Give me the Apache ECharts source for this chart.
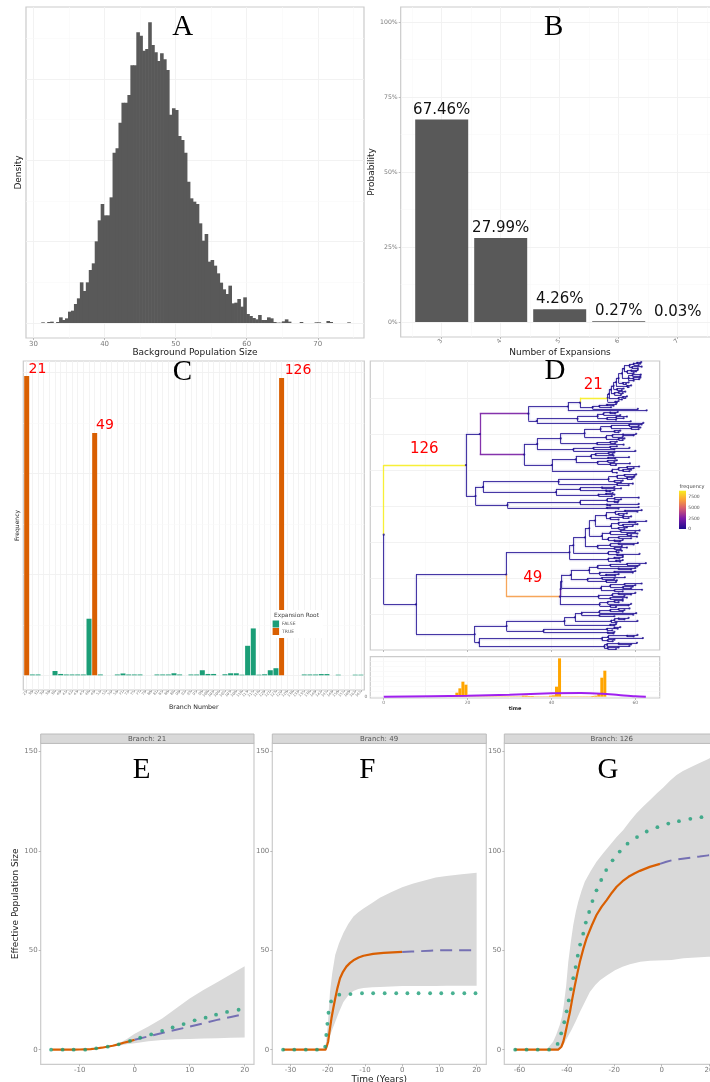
<!DOCTYPE html>
<html><head><meta charset="utf-8">
<style>html,body{margin:0;padding:0;background:#fff}#c{width:710px;height:1082px}</style>
<script src="https://cdn.jsdelivr.net/npm/echarts@6/dist/echarts.min.js"></script>
</head><body><div id="c"></div>
<script>
// ---------- Panel A ----------
const histStart = 31.13, histBin = 0.418;
const histHeights = [2,0,3,4,0,3,17,9,14,34,37,57,74,122,96,122,159,179,245,308,357,323,323,377,511,524,601,661,661,684,773,773,872,862,817,822,902,834,812,786,809,791,759,625,644,639,561,549,511,424,374,364,357,299,247,267,184,189,172,149,121,101,87,112,59,61,72,49,77,27,21,15,11,24,9,9,17,14,3,1,1,5,11,4,0,0,0,3,0,0,0,0,2,2,0,0,6,3,0,0,0,0,0,2];
const densityMajor = [0,244,488,732], densityMinor = [122,366,610,854];
// ---------- Panel B ----------
const expansionCounts = [3,4,5,6,7];
const expansionProb = [67.46,27.99,4.26,0.27,0.03];
// ---------- Panel C ----------
const branchLabels = [21,30,31,36,38,39,40,41,42,43,45,48,49,52,55,56,58,71,72,75,77,79,80,81,85,88,89,90,92,93,95,98,100,102,104,105,107,109,110,113,115,118,120,121,123,126,128,130,132,135,138,140,142,145,148,150,155,160,162,165];
const branchFreq = [7410,20,20,0,0,107,33,20,20,20,20,1400,6000,20,0,0,20,45,20,20,20,0,0,20,20,20,50,20,0,20,20,125,33,33,0,25,50,50,15,730,1160,15,25,125,175,7360,0,0,0,20,20,20,30,30,0,15,0,0,15,15];
const rootBranches = [21,49,126];
// ---------- Panel D tree: node = [time, child...], a bare number is a tip time, {f,n} tags branch frequency ----------
const clade21 = [53.4,[53.7,[54.2,[54.8,[55.4,[56,[56.8,[57.3,[58.6,[59.6,[60.4,61.4,61.2],60.8],[59.2,61.5,60.6]],[58,[59,60.6,60.2],59.6]],[58.4,[59.3,61.3,61.2],[59.5,61.2,60.9],59.6]],[57,58.4,57.8]],[58,59,58.4]],[55.6,57.2,56.8]],[55,[56,57.6,57],56.6]],[56,[57,58,57.6],56.8]],[55.2,56,55.6]];
const cladeP1 = [34.5,[43.9,[46.8,{f:7400,n:clade21},[49.8,[51.4,[53.2,55.4,54.8],54.2],60.6]],62.7],[36.5,[46.2,[51,[52.4,[54,55.8,55.2],56.4],[53.2,[55.4,58,57.2],55.4]],58.9],61.9]];
const cladeP2 = [33.5,[36.6,[42.2,[47.9,[51.7,[54.2,[58.5,61.5,60.8],[59,61.2,60.8]],[55,56.4,56]],[53,[54.5,[57,60.2,59.6],57],[56,57.4,57]]],[50.8,[54,55.6,55.2],57.2]],[45.2,[50,[54,55.6,58.6],55],60]],[40.1,[45.8,[49.4,[50.5,[53.6,55,54.6],54.8],[53.5,58.5,55.2]],[51,[53.4,55.6,55],[54,58.7,55.4]]],[54.4,[56,[58,60.9,59.6],[57,59,58.6]],55.6]]];
const cladeL1 = [21.9,[23.7,[41.7,[53.6,[55.6,[57.4,60.2,59.8],[58,59.6,59.2]],[55,57,56.6]],[55.6,59.4,58.4]],[41.1,[46.8,[52,55,56.6],[53,55,54]],[51.2,[53,54.6,55],54.4]]],[29.5,[46.8,[53.2,[55,60.8,56.6],[55,56,55.8]],[53.2,60.8,54]],[53.2,60.8,56]]];
const cladeQ = [44.3,[45.2,[48,[49,[50.4,[53,[55.2,[57.5,61.5,60.5],[56,58,57.2]],[54,[57,59,58.4],56]],[54.2,[56,[58.5,62.6,60],[57,60.5,59.4]],[56,58,57.4]]],[52,[54,[56.5,61,60],[58,60.5,59]],[53.5,[56,60.4,59],[55,57,56.4]]]],[51,[54,[56,60.6,59.6],56.8],[55,58,56.5]]],[53.5,[55.4,56.8,56],[55.6,61,57]]],[53.5,[55,57,56.2],[55.4,57,56.4]]];
const clade49 = [42,{f:1500,n:[42.2,[42.4,[44.6,[49,[51,[54,[58,62.5,61],60.5],[56,60,59]],[51.5,[55,60,59.4],[53,56,55.2]]],[48.6,[52,57.5,55],[53,55.6,55.4]]],[51.8,[54,[57.4,61.5,60],[57,59.4,59]],[55,61.6,57]]],[51.2,[54.5,[56,60,59],57.4],[54,58,57]]]},[51.5,[53.4,[55,57,56],59],[54,58.4,55.4]]];
const cladeR = [21.7,[29.3,[43.1,[45.6,[47.2,[51.4,[54,[56,58.6,57.4],57],60.2],[51.4,59.5,55]],[54.2,[55,[56,58.4,57.4],60.5],55.5]],[54,55.4,55]],[38.1,[53.2,[55,56.4,55.8],54.5],[53.4,55,54.8]]],[22.7,[52,[53.5,[58,60.5,59.6],61.8],[53.4,55,54.6]],[52.6,[53.2,[56,60.4,59],58.6],[53.4,56,55.4]]]];
const treeRoot = [0,{f:7300,n:[19.6,[22.9,{f:2200,n:cladeP1},{f:2200,n:cladeP2}],cladeL1]},[7.7,[29.2,cladeQ,{f:6000,n:clade49}],cladeR]];
const treeGridFrac = [0.1209,0.2463,0.3718,0.4972,0.6226,0.748,0.8735];
const freqStops = [[0,'#2a1a96'],[2500,'#8a2aaa'],[5000,'#dd6a6a'],[6300,'#fdb24a'],[7300,'#f7ee2c']];
// ---------- Panel D histogram ----------
const tipHistStart = 16, tipHistBin = 0.72;
const tipHist = [2,5,12,25,45,36,1,1,1,1,1,1,1,1,1,1,1,1,1,1,1,1,1,1,3,3,2,2,1,1,1,1,1,3,4,30,115,1,1,1,1,1,1,1,1,1,1,2,3,8,57,78];
const densT = [0,20,30,40,47,52,56,60,62.5];
const densV = [0,3,6,10,11,9,5,1,0];
// ---------- Panels E, F, G ----------
const eBandX=[-6.5,-5,-3,-1.5,0,2.5,5,7.5,10,12.5,15,17.5,20], eUpper=[0.2,1.5,3,5.2,8,11.7,15.7,20.7,25.8,30,34,38,42], eLower=[0.2,1.2,2,2.7,3.2,4.2,4.9,5.2,5.4,5.6,5.8,6,6.2];
const eObsX=[-15,-11,-10,-9,-8,-7,-6,-5,-4,-3,-2,-1,0], eObsY=[0,0,0.1,0.2,0.3,0.6,1,1.5,2,2.7,3.5,4.2,5];
const ePredX=[0,2.5,5,7.5,10,12.5,15,17.5,20], ePredY=[5,6.7,8.4,10,11.6,13.3,15,16.5,18];
const eDotX=[-15.2,-13.1,-11.1,-9,-7,-4.9,-2.9,-0.85,1,3,5,6.9,8.9,10.9,12.9,14.8,16.8,18.9];
const eDotY=[0,0,0,0,0.7,1.5,2.7,4.4,6,7.7,9.5,11.2,12.9,14.8,16.1,17.6,19,20.1];
const fBandX=[-20.7,-20,-19.4,-18.8,-18,-17,-15.8,-14.5,-13.1,-11.8,-10.4,-8,-6,-3,0,3,6.5,9,11.9,16,20];
const fUpper=[0,12,29,38.5,47.7,53.5,58.7,63.2,67,69.2,71,74,76.5,79.3,81.7,83.7,85.4,86.6,87.4,88.3,89];
const fLower=[0,3.5,7,10,14,18.8,24,27.3,29.5,30.5,31,31.4,31.6,31.8,32,32,32,32.1,32.2,32.2,32.2];
const fObsX=[-32,-20.6,-20.3,-19.9,-19.5,-19,-18.5,-18,-17.4,-16.7,-15.9,-15,-14,-13.1,-11.7,-10.4,-7.8,-5,0];
const fObsY=[0,0,1.5,4,9.5,15.8,21,25.8,31,36,39.2,41.8,43.7,45,46.4,47.3,48.2,48.7,49.2];
const fPredX=[0,2.5,5,7.5,10,15,20], fPredY=[49.2,49.4,49.6,49.8,50,50,50];
const fDotX=[-32,-29,-25.9,-22.9,-20.7,-20.4,-20.1,-19.8,-19.1,-16.9,-13.9,-10.8,-7.8,-4.7,-1.6,1.4,4.4,7.5,10.5,13.6,16.7,19.7];
const fDotY=[0,0,0,0,1.5,7.4,13,18.6,24.3,27.7,28,28.4,28.4,28.4,28.4,28.4,28.4,28.4,28.4,28.4,28.4,28.4];
const gUpX=[-48.6,-45.8,-44.5,-43,-42,-41.3,-40.3,-39.4,-38.3,-37.3,-36.2,-35.2,-33.8,-32.4,-30,-27.5,-24.6,-21.8,-19,-16.2,-13.4,-10.6,-7.7,-4.9,-2,0.7,3.5,6.3,9,12,16,19.7,24];
const gUpper=[0,4,7.5,12.4,17,22.5,32,44.3,54.5,62.8,69.5,74.5,80,84.6,89.8,94.6,99,103,107,110.6,115,119,122.5,125.7,129,132,135.3,138.3,140.3,142,144.3,146.3,149];
const gLoX=[-48.6,-43,-41.9,-40.8,-39.4,-38,-36.2,-34.5,-32.4,-30.3,-28,-26,-23,-19.7,-16.5,-13.4,-9,-4.9,4.2,9.2,19.7,24];
const gLower=[0,0,1.5,4,7,10,14.5,19,24,29,32.5,35,37.5,40,41.8,43,44.2,44.8,45.1,46,46.8,47];
const gObsX=[-62,-43.7,-43,-42.3,-41.5,-40.8,-39.8,-38.7,-37.7,-36.6,-35.5,-34.5,-33,-31.7,-29.5,-27.5,-25.3,-23.2,-21,-19,-16.5,-14,-11.5,-9.2,-5,-0.7];
const gObsY=[0,0,0.4,1.5,4,7.4,13,19,25.7,32.5,38.8,44.3,51,56,62.5,67.8,72,75.3,79,82,84.8,87,88.7,90,92,93.5];
const gPredX=[-0.7,2,4.9,8,12,16,19.7,24], gPredY=[93.5,94.6,95.5,96,96.6,97.2,97.8,98.2];
const gDotX=[-61.8,-57,-52.3,-47.5,-43.9,-42.4,-41.1,-40.1,-39.2,-38.3,-37.3,-36.3,-35.4,-34.4,-33.1,-32,-30.6,-29.2,-27.5,-25.5,-23.4,-20.7,-17.7,-14.4,-10.4,-6.3,-1.8,2.8,7.3,12.1,16.8];
const gDotY=[0,0,0,0,2.9,8.2,13.8,19.3,24.8,30.5,36,41.6,47.3,52.9,58.4,64,69.3,74.8,80.2,85.4,90.4,95.3,99.7,103.7,107,109.8,112,113.8,115,116.2,117];
const popTicks=[0,50,100,150];

// ---------- helpers ----------
const SANS='"DejaVu Sans"', SERIF='"Liberation Serif"';
const MAJOR='#f0f0f0', MINOR='#f8f8f8', BORDER='#cbcbcb', TICK='#7a7a7a', TITLE='#222';
const GREEN='#1b9e77', ORANGE='#d95f02', VIOLET='#7570b3', DARK='#595959';
const zip=(a,b)=>a.map((v,i)=>[v,b[i]]);
function refLines(i,axisName,values,color,width){
  return {type:'line',xAxisIndex:i,yAxisIndex:i,data:[],silent:true,z:0,
    markLine:{silent:true,symbol:'none',animation:false,z:0,label:{show:false},lineStyle:{color,width,type:'solid'},
      data:values.map(v=>axisName==='x'?{xAxis:v}:{yAxis:v})}};
}
function gridBox(left,top,right,bottom){return {left,top,width:right-left,height:bottom-top,show:true,borderColor:BORDER,borderWidth:1.2,backgroundColor:'#fff',outerBoundsMode:'none'};}
function ax(i,min,max,o={}){
  const t={type:'value',gridIndex:i,min,max,scale:true,splitLine:{show:false},axisLine:{show:false,onZero:false},
    axisTick:o.ticks?{show:true,length:2,lineStyle:{color:'#aaa',width:0.8},customValues:o.ticks}:{show:false},
    axisLabel:o.labels?Object.assign({show:true,customValues:o.labels,color:TICK,fontFamily:SANS,fontSize:o.fs||7,margin:o.margin||3,hideOverlap:false},o.label||{}):{show:false}};
  if(o.name){t.name=o.name;t.nameLocation='middle';t.nameGap=o.gap;t.nameTextStyle={fontFamily:SANS,fontSize:o.nameSize||9,color:TITLE,fontWeight:o.nameWeight||'normal'};}
  return t;
}
// tree layout through the tree's own structure
const edges=[],treeNodes=[];let tipRow=0;
function countTips(nd){
  if(typeof nd==='number')return 1;
  if(!Array.isArray(nd))return countTips(nd.n);
  return nd.slice(1).reduce((s,c)=>s+countTips(c),0);
}
const nTips=countTips(treeRoot);
function place(nd,parentT){
  let freq=12,node=nd;
  if(!Array.isArray(nd)&&typeof nd!=='number'){freq=nd.f;node=nd.n;}
  let t,y;
  if(typeof node==='number'){t=node;y=nTips-1-tipRow;tipRow++;}
  else{
    t=node[0];
    const kids=node.slice(1).map(c=>place(c,t));
    y=kids.reduce((s,k)=>s+k.y,0)/kids.length;
    kids.forEach(k=>edges.push({f:k.f,coords:[[t,y],[t,k.y]]}));
  }
  treeNodes.push([t,y]);
  if(parentT!==undefined)edges.push({f:freq,coords:[[parentT,y],[t,y]]});
  return {y,f:freq};
}
place(treeRoot);
function hex(c){return [1,3,5].map(i=>parseInt(c.substr(i,2),16));}
function freqColor(f){
  for(let i=1;i<freqStops.length;i++){
    if(f<=freqStops[i][0]){
      const [a,ca]=freqStops[i-1],[b,cb]=freqStops[i],k=(f-a)/(b-a),x=hex(ca),y=hex(cb);
      return 'rgb('+x.map((v,j)=>Math.round(v+(y[j]-v)*k)).join(',')+')';
    }
  }
  return freqStops[freqStops.length-1][1];
}
edges.sort((a,b)=>a.f-b.f);
const treePx=287/(nTips-1);
function ribbon(i,xU,up,xL,lo){
  const pts=zip(xU,up).concat(zip(xL,lo).reverse());
  return {type:'custom',xAxisIndex:i,yAxisIndex:i,z:1,silent:true,clip:true,encode:{x:0,y:1},data:pts,
    renderItem:(p,api)=>p.dataIndex!==0?null:{type:'polygon',shape:{points:pts.map(q=>api.coord(q))},style:{fill:'#d9d9d9'}}};
}
function popSeries(i,bx,bu,bl,ox,oy,px,py,dx,dy,bx2){
  return [ribbon(i,bx,bu,bx2||bx,bl),
   {type:'line',xAxisIndex:i,yAxisIndex:i,z:3,data:zip(ox,oy),showSymbol:false,lineStyle:{color:ORANGE,width:2.2,join:'round'}},
   {type:'line',xAxisIndex:i,yAxisIndex:i,z:3,data:zip(px,py),showSymbol:false,lineStyle:{color:VIOLET,width:2,type:[12,7]}},
   {type:'scatter',xAxisIndex:i,yAxisIndex:i,z:4,data:zip(dx,dy),symbol:'circle',symbolSize:3.8,itemStyle:{color:GREEN}}];
}
function T(text,x,y,fontSize,fill,extra){
  return Object.assign({type:'text',x,y,z:12,silent:true,style:{text,fontSize,fontFamily:SANS,fill,align:'center',verticalAlign:'middle'}},extra||{});
}
function letter(text,x,y){const e=T(text,x,y,29,'#000');e.style.fontFamily=SERIF;return e;}
function strip(left,right,text,cx){
  return [{type:'rect',z:8,silent:true,shape:{x:left,y:734,width:right-left,height:9.4},style:{fill:'#d9d9d9',stroke:'#bcbcbc',lineWidth:1}},T(text,cx,739,7,'#555')];
}
// ---------- option ----------
const grids=[gridBox(26,7,364,338),gridBox(400.7,7,719.3,337),gridBox(23.3,361,364.3,690),gridBox(370.3,361,659.7,650),gridBox(370.3,656.7,659.7,698),
  gridBox(40.7,743.3,254,1064.3),gridBox(272.3,743.3,486.3,1064.3),gridBox(504.3,743.3,719,1064.3)];
const popAxisY=(i,o)=>ax(i,-7.35,154.2,Object.assign({ticks:popTicks,labels:popTicks,fs:7,margin:3},o||{}));
const xAxes=[
 ax(0,28.94,76.5,{ticks:[30,40,50,60,70],labels:[30,40,50,60,70],name:'Background Population Size',gap:9.5,margin:2.5}),
 ax(1,2.305,7.705,{ticks:expansionCounts,labels:expansionCounts,name:'Number of Expansions',gap:10,margin:3,label:{rotate:45,fontSize:6}}),
 ax(2,-0.6,59.6,{ticks:branchLabels.map((b,i)=>i),labels:branchLabels.map((b,i)=>i),name:'Branch Number',gap:14,nameSize:6.3,margin:1.5,label:{rotate:45,fontSize:3.6,formatter:v=>branchLabels[v]}}),
 ax(3,-3.2,65.8,{ticks:[0,20,40,60]}),
 ax(4,-3.2,65.8,{ticks:[0,20,40,60],labels:[0,20,40,60],name:'time',gap:7.5,nameSize:5,nameWeight:'bold',margin:2,label:{fontSize:4.5}}),
 ax(5,-17.09,21.7,{ticks:[-10,0,10,20],labels:[-10,0,10,20],margin:2.5}),
 ax(6,-34.9,22.6,{ticks:[-30,-20,-10,0,10,20],labels:[-30,-20,-10,0,10,20],name:'Time (Years)',gap:9,margin:2.5}),
 ax(7,-66.4,24.2,{ticks:[-60,-40,-20,0,20],labels:[-60,-40,-20,0,20],margin:2.5})
];
const yAxes=[
 ax(0,-45,948,{name:'Density',gap:2.5}),
 ax(1,-5,105,{ticks:[0,25,50,75,100],labels:[0,25,50,75,100],name:'Probability',gap:24,margin:3,label:{fontSize:6.2,formatter:'{value}%'}}),
 ax(2,-364,7779,{name:'Frequency',gap:2.6,nameSize:6}),
 ax(3,-1/treePx,nTips-1+1/treePx),
 ax(4,-4,120,{labels:[0],margin:3,label:{fontSize:4.5}}),
 popAxisY(5,{name:'Effective Population Size',gap:17.7}),popAxisY(6),popAxisY(7)
];
const series=[
 refLines(0,'x',[35,45,55,65,75],MINOR,0.6),refLines(0,'x',[30,40,50,60,70],MAJOR,0.9),
 refLines(0,'y',densityMinor,MINOR,0.6),refLines(0,'y',densityMajor,MAJOR,0.9),
 {type:'bar',xAxisIndex:0,yAxisIndex:0,z:2,barWidth:3.6,itemStyle:{color:DARK},data:histHeights.map((h,k)=>[histStart+histBin*(k+0.5),h])},

 refLines(1,'x',[2.5,3.5,4.5,5.5,6.5,7.5],MINOR,0.6),refLines(1,'x',expansionCounts,MAJOR,0.9),
 refLines(1,'y',[12.5,37.5,62.5,87.5],MINOR,0.6),refLines(1,'y',[0,25,50,75,100],MAJOR,0.9),
 {type:'bar',xAxisIndex:1,yAxisIndex:1,z:2,barWidth:53,itemStyle:{color:DARK},data:zip(expansionCounts,expansionProb),
  label:{show:true,position:'top',distance:2.5,color:'#111',fontFamily:SANS,fontSize:15,formatter:p=>p.value[1].toFixed(2)+'%'}},

 refLines(2,'x',branchLabels.map((b,i)=>i),MAJOR,0.8),
 refLines(2,'y',[1250,3750,6250],MINOR,0.6),refLines(2,'y',[0,2500,5000,7500],MAJOR,0.9),
 {name:'FALSE',type:'bar',xAxisIndex:2,yAxisIndex:2,z:2,barWidth:5,barGap:'-100%',itemStyle:{color:GREEN},
  data:branchFreq.map((v,i)=>rootBranches.includes(branchLabels[i])?[i,0]:[i,v])},
 {name:'TRUE',type:'bar',xAxisIndex:2,yAxisIndex:2,z:2,barWidth:5,barGap:'-100%',itemStyle:{color:ORANGE},
  data:branchFreq.map((v,i)=>rootBranches.includes(branchLabels[i])?[i,v]:[i,0])},

 refLines(3,'x',[10,30,50],MINOR,0.6),refLines(3,'x',[0,20,40,60],MAJOR,0.9),
 refLines(3,'y',treeGridFrac.map(f=>f*(nTips-1)),MAJOR,0.9),
 {type:'lines',coordinateSystem:'cartesian2d',xAxisIndex:3,yAxisIndex:3,z:3,silent:true,polyline:false,
  lineStyle:{width:2.4,opacity:0.4,color:'#b4aee0'},
  data:edges.filter(e=>e.f<1000).map(e=>({coords:e.coords}))},
 {type:'lines',coordinateSystem:'cartesian2d',xAxisIndex:3,yAxisIndex:3,z:3,silent:true,polyline:false,
  lineStyle:{width:1,opacity:0.95},
  data:edges.map(e=>({coords:e.coords,lineStyle:{color:freqColor(e.f),width:e.f>1000?1.3:0.9}}))},
 {type:'scatter',xAxisIndex:3,yAxisIndex:3,z:4,silent:true,symbolSize:2.2,itemStyle:{color:'#1c0c8e'},data:treeNodes},

 refLines(4,'x',[0,10,20,30,40,50,60],MAJOR,0.7),refLines(4,'y',[0,15,30,45,60,75,90,105],MINOR,0.7),
 {type:'bar',xAxisIndex:4,yAxisIndex:4,z:2,barWidth:3,itemStyle:{color:'#ffa500'},data:tipHist.map((h,k)=>[tipHistStart+tipHistBin*k,h])},
 {type:'line',xAxisIndex:4,yAxisIndex:4,z:3,data:zip(densT,densV),showSymbol:false,smooth:0.3,lineStyle:{color:'#a020f0',width:2}},

 ...popSeries(5,eBandX,eUpper,eLower,eObsX,eObsY,ePredX,ePredY,eDotX,eDotY),
 ...popSeries(6,fBandX,fUpper,fLower,fObsX,fObsY,fPredX,fPredY,fDotX,fDotY),
 ...popSeries(7,gUpX,gUpper,gLower,gObsX,gObsY,gPredX,gPredY,gDotX,gDotY,gLoX)
];
const graphicEls=[
 letter('A',182.7,27),letter('B',553.7,27),letter('C',182.3,372.3),letter('D',555,371.7),
 letter('E',141.7,770.7),letter('F',367.3,770.7),letter('G',608,770.7),
 T('21',37.5,369,14,'#ff0000'),T('49',105,425,14,'#ff0000'),T('126',298,370.5,14,'#ff0000'),
 T('21',593.3,385,15,'#ff0000'),T('126',424.3,449.3,15,'#ff0000'),T('49',532.7,578.3,15,'#ff0000'),
 {type:'rect',z:3,silent:true,shape:{x:271,y:610,width:52,height:28},style:{fill:'#fff'}},
 T('Expansion Root',296.5,615.5,5.8,'#444'),
 T('frequency',692,486.3,5,'#444'),
 {type:'rect',z:9,silent:true,shape:{x:679,y:490.7,width:7,height:38.3},style:{fill:new echarts.graphic.LinearGradient(0,1,0,0,[{offset:0,color:'#1c0c8e'},{offset:0.28,color:'#7e1aa8'},{offset:0.55,color:'#d95f6e'},{offset:0.78,color:'#fca636'},{offset:1,color:'#f8ee20'}])}},
 T('7500',694,497.3,4.5,'#555'),T('5000',694,508,4.5,'#555'),T('2500',694,518.5,4.5,'#555'),T('0',689.8,529,4.5,'#555'),
 ...strip(40.7,254,'Branch: 21',147),...strip(272.3,486.3,'Branch: 49',379),...strip(504.3,719,'Branch: 126',611.7)
];
const chart=echarts.init(document.getElementById('c'),null,{renderer:'canvas',width:710,height:1082});
chart.setOption({
  animation:false,backgroundColor:'#fff',textStyle:{fontFamily:SANS},
  grid:grids,xAxis:xAxes,yAxis:yAxes,series,graphic:graphicEls,
  legend:{data:['FALSE','TRUE'],orient:'vertical',left:272.6,top:620.5,padding:0,itemWidth:6.5,itemHeight:7,itemGap:0.5,z:20,selectedMode:false,
    icon:'rect',textStyle:{fontSize:4.5,color:'#555',fontFamily:SANS,padding:[0,0,0,-2]}}
});
</script>
</body></html>
